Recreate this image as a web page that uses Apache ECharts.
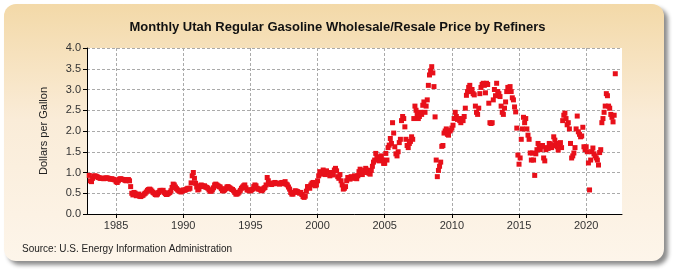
<!DOCTYPE html>
<html lang="en">
  <head>
    <meta charset="utf-8" />
    <script src="https://cdn.jsdelivr.net/npm/echarts@6/dist/echarts.min.js"></script>
    <title>Monthly Utah Regular Gasoline Wholesale/Resale Price by Refiners</title>
    <style>
      html, body { margin: 0; padding: 0; background: #fff; }
      #chart { width: 675px; height: 275px; }
    </style>
  </head>
  <body>
    <div id="chart"></div>
    <script>
      // monthly prices, dollars per gallon, Jan 1983 onward
      var prices1980s = [
        0.93, 0.80, 0.78, 0.86, 0.91, 0.92, 0.91, 0.90, 0.88, 0.87, 0.86, 0.86,
        0.86, 0.85, 0.86, 0.87, 0.87, 0.86, 0.85, 0.84, 0.85, 0.84, 0.83, 0.82,
        0.78, 0.76, 0.80, 0.84, 0.85, 0.84, 0.83, 0.83, 0.81, 0.80, 0.82, 0.83,
        0.80, 0.66, 0.50, 0.46, 0.52, 0.50, 0.44, 0.45, 0.48, 0.43, 0.42, 0.44,
        0.45, 0.48, 0.50, 0.53, 0.57, 0.59, 0.60, 0.58, 0.55, 0.52, 0.50, 0.47,
        0.46, 0.48, 0.52, 0.56, 0.57, 0.55, 0.57, 0.52, 0.49, 0.47, 0.48, 0.50,
        0.52, 0.56, 0.64, 0.72, 0.70, 0.65, 0.61, 0.58, 0.56, 0.55, 0.53, 0.55
      ]
      var prices1990s = [
        0.58, 0.57, 0.58, 0.60, 0.62, 0.60, 0.62, 0.75, 0.92, 1.00, 0.86, 0.74,
        0.65, 0.58, 0.60, 0.68, 0.70, 0.68, 0.66, 0.68, 0.65, 0.64, 0.62, 0.58,
        0.55, 0.55, 0.58, 0.63, 0.70, 0.72, 0.70, 0.68, 0.66, 0.65, 0.61, 0.56,
        0.56, 0.58, 0.61, 0.65, 0.66, 0.64, 0.62, 0.60, 0.59, 0.56, 0.52, 0.48,
        0.48, 0.50, 0.53, 0.57, 0.62, 0.65, 0.68, 0.70, 0.63, 0.58, 0.58, 0.56,
        0.56, 0.58, 0.60, 0.66, 0.70, 0.68, 0.62, 0.60, 0.60, 0.58, 0.56, 0.58,
        0.62, 0.64, 0.70, 0.88, 0.80, 0.74, 0.72, 0.71, 0.73, 0.75, 0.76, 0.74,
        0.73, 0.74, 0.72, 0.74, 0.76, 0.73, 0.75, 0.78, 0.72, 0.70, 0.65, 0.60,
        0.52, 0.48, 0.48, 0.52, 0.56, 0.55, 0.54, 0.52, 0.50, 0.52, 0.47, 0.42,
        0.40, 0.43, 0.55, 0.66, 0.66, 0.62, 0.70, 0.74, 0.76, 0.72, 0.68, 0.70
      ]
      var prices2000s = [
        0.80, 0.92, 1.02, 0.96, 0.98, 1.06, 0.98, 0.95, 1.04, 1.00, 1.00, 0.92,
        0.96, 1.00, 0.94, 1.06, 1.10, 1.04, 0.90, 0.86, 0.95, 0.80, 0.70, 0.60,
        0.62, 0.66, 0.80, 0.88, 0.86, 0.84, 0.90, 0.88, 0.86, 0.92, 0.87, 0.85,
        0.92, 1.02, 1.08, 0.98, 0.95, 1.00, 1.05, 1.10, 1.06, 1.00, 0.98, 0.96,
        1.05, 1.15, 1.25, 1.30, 1.46, 1.38, 1.35, 1.28, 1.30, 1.40, 1.30, 1.22,
        1.22, 1.46, 1.30, 1.60, 1.66, 1.82, 1.70, 2.20, 1.95, 1.62, 1.45, 1.40,
        1.50, 1.72, 1.80, 2.25, 2.35, 2.30, 2.10, 1.80, 1.65, 1.60, 1.70, 1.75,
        1.86, 1.80, 2.30, 2.60, 2.50, 2.40, 2.30, 2.35, 2.45, 2.40, 2.62, 2.70,
        2.45, 2.60, 2.75, 3.10, 3.35, 3.45, 3.55, 3.40, 3.07, 2.34, 1.30, 0.90,
        1.05, 1.15, 1.25, 1.63, 1.65, 1.95, 2.00, 2.05, 1.92, 1.90, 2.00, 2.02
      ]
      var prices2010s = [
        2.07, 2.14, 2.30, 2.45, 2.35, 2.28, 2.30, 2.25, 2.20, 2.30, 2.25, 2.35,
        2.55, 2.86, 2.95, 3.05, 3.10, 2.95, 3.00, 2.90, 2.87, 2.60, 2.45, 2.40,
        2.55, 2.90, 3.05, 3.12, 3.15, 3.10, 2.92, 3.15, 3.12, 2.67, 2.20, 2.18,
        2.20, 2.75, 3.00, 2.85, 3.15, 2.95, 2.90, 2.83, 2.60, 2.45, 2.40, 2.55,
        2.70, 2.95, 3.05, 3.00, 3.07, 2.95, 2.80, 2.75, 2.58, 2.46, 2.07, 1.42,
        1.20, 1.35, 1.80, 2.05, 2.33, 2.20, 2.30, 2.05, 1.90, 1.80, 1.47, 1.30,
        1.47, 1.30, 0.93, 1.45, 1.55, 1.70, 1.60, 1.55, 1.62, 1.65, 1.35, 1.28,
        1.55, 1.60, 1.58, 1.70, 1.68, 1.60, 1.65, 1.86, 1.78, 1.70, 1.62, 1.54,
        1.65, 1.72, 1.60, 2.25, 2.38, 2.43, 2.30, 2.15, 2.20, 2.05, 1.70, 1.35,
        1.40, 1.47, 1.60, 2.05, 2.36, 1.98, 1.92, 1.86, 1.88, 2.09, 1.62, 1.55
      ]
      var prices2020s = [
        1.62, 1.50, 1.23, 0.58, 1.30, 1.50, 1.59, 1.45, 1.40, 1.35, 1.30, 1.18,
        1.48, 1.55, 2.20, 2.30, 2.45, 2.60, 2.90, 2.85, 2.60, 2.55, 2.40, 2.33,
        2.22, 2.38, 3.38
      ]
      var yTicks = [0, 0.5, 1.0, 1.5, 2.0, 2.5, 3.0, 3.5, 4.0]

      var prices = prices1980s.concat(prices1990s, prices2000s, prices2010s, prices2020s)

      // month categories from Nov 1982 to Sep 2022 (axis edges)
      var months = []
      for (var y = 1982; y <= 2022; y++) {
        for (var m = 1; m <= 12; m++) {
          if (y === 1982 && m < 11) continue
          if (y === 2022 && m > 9) continue
          months.push(y + '-' + (m < 10 ? '0' + m : m))
        }
      }
      var firstIdx = months.indexOf('1983-01')
      var points = prices.map(function (v, i) { return [months[firstIdx + i], v] })

      function fiveYear (idx, val) {
        var parts = val.split('-')
        return parts[1] === '01' && (+parts[0]) % 5 === 0
      }

      var chart = echarts.init(document.getElementById('chart'), null, { renderer: 'canvas' })
      chart.setOption({
        animation: false,
        textStyle: { fontFamily: 'Liberation Sans, Arial, sans-serif' },
        graphic: [
          {
            type: 'rect',
            z: -10,
            shape: { x: 4, y: 4, width: 660, height: 257, r: 12 },
            style: {
              fill: new echarts.graphic.LinearGradient(0, 0, 0, 1, [
                { offset: 0, color: '#f3d9a8' },
                { offset: 0.45, color: '#faecd8' },
                { offset: 1, color: '#fdf5ea' }
              ]),
              shadowColor: 'rgba(0,0,0,0.45)',
              shadowBlur: 4,
              shadowOffsetX: 4,
              shadowOffsetY: 4
            }
          },
          {
            type: 'text',
            left: 22,
            top: 244,
            style: {
              text: 'Source: U.S. Energy Information Administration',
              fill: '#222',
              font: '10px Liberation Sans, Arial, sans-serif'
            }
          }
        ],
        title: {
          text: 'Monthly Utah Regular Gasoline Wholesale/Resale Price by Refiners',
          left: 'center',
          top: 16,
          textStyle: { fontSize: 13, fontWeight: 'bold', color: '#111' }
        },
        grid: {
          left: 87,
          right: 53,
          top: 48,
          bottom: 61,
          show: true,
          backgroundColor: '#fff',
          borderWidth: 0
        },
        xAxis: {
          type: 'category',
          data: months,
          boundaryGap: false,
          axisLine: { lineStyle: { color: '#000', width: 1 } },
          axisTick: { interval: fiveYear, length: 4, lineStyle: { color: '#000' } },
          axisLabel: {
            interval: fiveYear,
            formatter: function (v) { return v.slice(0, 4) },
            color: '#333',
            fontSize: 11,
            margin: 6
          },
          splitLine: {
            show: true,
            interval: fiveYear,
            lineStyle: { color: '#aaa', type: [3, 2] }
          }
        },
        yAxis: {
          type: 'value',
          min: yTicks[0],
          max: yTicks[yTicks.length - 1],
          interval: 0.5,
          name: 'Dollars per Gallon',
          nameLocation: 'middle',
          nameRotate: 90,
          nameGap: 38,
          nameTextStyle: { fontSize: 11, color: '#222' },
          axisLine: { show: true, lineStyle: { color: '#000', width: 1 } },
          axisTick: { show: true, length: 4, lineStyle: { color: '#000' } },
          axisLabel: {
            formatter: function (v) { return v.toFixed(1) },
            color: '#333',
            fontSize: 11,
            margin: 6
          },
          splitLine: { lineStyle: { color: '#aaa', type: [3, 2] } }
        },
        series: [
          {
            type: 'scatter',
            data: points,
            symbol: 'rect',
            symbolSize: 5,
            itemStyle: { color: '#e8101a', opacity: 1 }
          }
        ]
      })
    </script>
  </body>
</html>
